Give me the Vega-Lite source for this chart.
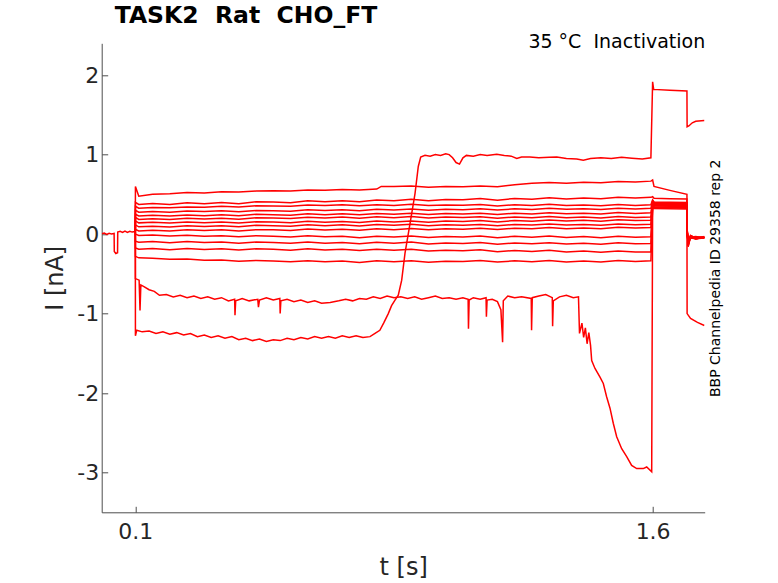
{
  "$schema": "https://vega.github.io/schema/vega-lite/v6.json",
  "autosize": {"type": "none"},
  "padding": {"left": 101.7, "top": 43.3, "right": 73.3, "bottom": 70.7},
  "width": 603,
  "height": 469,
  "background": "white",
  "config": {"view": {"stroke": null}, "font": "DejaVu Sans"},
  "title": {
    "text": "TASK2\u00a0 Rat\u00a0 CHO_FT",
    "anchor": "start",
    "frame": "group",
    "dx": 13,
    "dy": 30,
    "offset": 16,
    "baseline": "alphabetic",
    "font": "DejaVu Sans",
    "fontSize": 23.5,
    "fontWeight": "bold",
    "color": "#000000"
  },
  "datasets": {
    "traces": [
      {"s":"b","t":0.003,"i":0.005},{"s":"b","t":0.01,"i":0.012},{"s":"b","t":0.017,"i":-0.004},{"s":"b","t":0.024,"i":0.01},{"s":"b","t":0.031,"i":0.002},{"s":"b","t":0.0385,"i":0.008},{"s":"b","t":0.039,"i":-0.22},{"s":"b","t":0.0435,"i":-0.245},{"s":"b","t":0.0485,"i":-0.235},{"s":"b","t":0.049,"i":0.025},{"s":"b","t":0.056,"i":0.035},{"s":"b","t":0.063,"i":0.02},{"s":"b","t":0.07,"i":0.038},{"s":"b","t":0.077,"i":0.022},{"s":"b","t":0.084,"i":0.036},{"s":"b","t":0.091,"i":0.025},{"s":"b","t":0.0995,"i":0.032},

      {"s":"A","t":0.1,"i":0.03},{"s":"A","t":0.1003,"i":0.6},{"s":"A","t":0.11,"i":0.477},{"s":"A","t":0.15,"i":0.5},{"s":"A","t":0.2,"i":0.508},{"s":"A","t":0.25,"i":0.522},{"s":"A","t":0.3,"i":0.518},{"s":"A","t":0.35,"i":0.532},{"s":"A","t":0.4,"i":0.528},{"s":"A","t":0.45,"i":0.541},{"s":"A","t":0.5,"i":0.546},{"s":"A","t":0.55,"i":0.541},{"s":"A","t":0.6,"i":0.556},{"s":"A","t":0.65,"i":0.552},{"s":"A","t":0.7,"i":0.562},{"s":"A","t":0.75,"i":0.556},{"s":"A","t":0.8,"i":0.566},{"s":"A","t":0.813,"i":0.6},{"s":"A","t":0.85,"i":0.598},{"s":"A","t":0.9,"i":0.604},{"s":"A","t":0.95,"i":0.59},{"s":"A","t":1.0,"i":0.598},{"s":"A","t":1.05,"i":0.594},{"s":"A","t":1.1,"i":0.606},{"s":"A","t":1.15,"i":0.596},{"s":"A","t":1.2,"i":0.622},{"s":"A","t":1.25,"i":0.64},{"s":"A","t":1.3,"i":0.648},{"s":"A","t":1.35,"i":0.638},{"s":"A","t":1.4,"i":0.652},{"s":"A","t":1.45,"i":0.646},{"s":"A","t":1.5,"i":0.66},{"s":"A","t":1.55,"i":0.654},{"s":"A","t":1.595,"i":0.666},{"s":"A","t":1.6,"i":0.68},{"s":"A","t":1.604,"i":0.6},{"s":"A","t":1.65,"i":0.55},{"s":"A","t":1.6995,"i":0.5},{"s":"A","t":1.7,"i":0.06},{"s":"A","t":1.703,"i":-0.1},{"s":"A","t":1.71,"i":-0.03},{"s":"A","t":1.725,"i":-0.05},{"s":"A","t":1.75,"i":-0.04},

      {"s":"T2","t":0.1,"i":0.03},{"s":"T2","t":0.1003,"i":0.4},{"s":"T2","t":0.11,"i":0.373},{"s":"T2","t":0.15,"i":0.386},{"s":"T2","t":0.2,"i":0.372},{"s":"T2","t":0.25,"i":0.395},{"s":"T2","t":0.3,"i":0.383},{"s":"T2","t":0.35,"i":0.397},{"s":"T2","t":0.4,"i":0.382},{"s":"T2","t":0.45,"i":0.406},{"s":"T2","t":0.5,"i":0.404},{"s":"T2","t":0.55,"i":0.395},{"s":"T2","t":0.6,"i":0.42},{"s":"T2","t":0.65,"i":0.407},{"s":"T2","t":0.7,"i":0.42},{"s":"T2","t":0.75,"i":0.407},{"s":"T2","t":0.8,"i":0.43},{"s":"T2","t":0.85,"i":0.42},{"s":"T2","t":0.9,"i":0.438},{"s":"T2","t":0.95,"i":0.419},{"s":"T2","t":1.0,"i":0.436},{"s":"T2","t":1.05,"i":0.432},{"s":"T2","t":1.1,"i":0.446},{"s":"T2","t":1.15,"i":0.427},{"s":"T2","t":1.2,"i":0.448},{"s":"T2","t":1.25,"i":0.439},{"s":"T2","t":1.3,"i":0.457},{"s":"T2","t":1.35,"i":0.442},{"s":"T2","t":1.4,"i":0.454},{"s":"T2","t":1.45,"i":0.444},{"s":"T2","t":1.5,"i":0.464},{"s":"T2","t":1.55,"i":0.455},{"s":"T2","t":1.595,"i":0.462},{"s":"T2","t":1.6,"i":0.47},{"s":"T2","t":1.604,"i":0.45},{"s":"T2","t":1.65,"i":0.445},{"s":"T2","t":1.6995,"i":0.44},{"s":"T2","t":1.7,"i":0.08},{"s":"T2","t":1.703,"i":-0.14},{"s":"T2","t":1.71,"i":-0.02},{"s":"T2","t":1.725,"i":-0.06},{"s":"T2","t":1.75,"i":-0.04},

      {"s":"T3","t":0.1,"i":0.03},{"s":"T3","t":0.1003,"i":0.35},{"s":"T3","t":0.11,"i":0.326},{"s":"T3","t":0.15,"i":0.335},{"s":"T3","t":0.2,"i":0.33},{"s":"T3","t":0.25,"i":0.342},{"s":"T3","t":0.3,"i":0.339},{"s":"T3","t":0.35,"i":0.35},{"s":"T3","t":0.4,"i":0.342},{"s":"T3","t":0.45,"i":0.356},{"s":"T3","t":0.5,"i":0.352},{"s":"T3","t":0.55,"i":0.349},{"s":"T3","t":0.6,"i":0.366},{"s":"T3","t":0.65,"i":0.358},{"s":"T3","t":0.7,"i":0.368},{"s":"T3","t":0.75,"i":0.356},{"s":"T3","t":0.8,"i":0.37},{"s":"T3","t":0.85,"i":0.361},{"s":"T3","t":0.9,"i":0.374},{"s":"T3","t":0.95,"i":0.358},{"s":"T3","t":1.0,"i":0.367},{"s":"T3","t":1.05,"i":0.362},{"s":"T3","t":1.1,"i":0.373},{"s":"T3","t":1.15,"i":0.354},{"s":"T3","t":1.2,"i":0.37},{"s":"T3","t":1.25,"i":0.36},{"s":"T3","t":1.3,"i":0.375},{"s":"T3","t":1.35,"i":0.358},{"s":"T3","t":1.4,"i":0.366},{"s":"T3","t":1.45,"i":0.356},{"s":"T3","t":1.5,"i":0.371},{"s":"T3","t":1.55,"i":0.36},{"s":"T3","t":1.595,"i":0.368},{"s":"T3","t":1.6,"i":0.43},{"s":"T3","t":1.604,"i":0.405},{"s":"T3","t":1.65,"i":0.4},{"s":"T3","t":1.6995,"i":0.398},{"s":"T3","t":1.7,"i":0.05},{"s":"T3","t":1.703,"i":-0.12},{"s":"T3","t":1.71,"i":-0.04},{"s":"T3","t":1.725,"i":-0.05},{"s":"T3","t":1.75,"i":-0.05},

      {"s":"T4","t":0.1,"i":0.03},{"s":"T4","t":0.1003,"i":0.3},{"s":"T4","t":0.11,"i":0.276},{"s":"T4","t":0.15,"i":0.284},{"s":"T4","t":0.2,"i":0.274},{"s":"T4","t":0.25,"i":0.29},{"s":"T4","t":0.3,"i":0.283},{"s":"T4","t":0.35,"i":0.292},{"s":"T4","t":0.4,"i":0.28},{"s":"T4","t":0.45,"i":0.297},{"s":"T4","t":0.5,"i":0.294},{"s":"T4","t":0.55,"i":0.288},{"s":"T4","t":0.6,"i":0.305},{"s":"T4","t":0.65,"i":0.296},{"s":"T4","t":0.7,"i":0.306},{"s":"T4","t":0.75,"i":0.294},{"s":"T4","t":0.8,"i":0.311},{"s":"T4","t":0.85,"i":0.302},{"s":"T4","t":0.9,"i":0.316},{"s":"T4","t":0.95,"i":0.3},{"s":"T4","t":1.0,"i":0.312},{"s":"T4","t":1.05,"i":0.307},{"s":"T4","t":1.1,"i":0.318},{"s":"T4","t":1.15,"i":0.302},{"s":"T4","t":1.2,"i":0.318},{"s":"T4","t":1.25,"i":0.31},{"s":"T4","t":1.3,"i":0.325},{"s":"T4","t":1.35,"i":0.311},{"s":"T4","t":1.4,"i":0.32},{"s":"T4","t":1.45,"i":0.309},{"s":"T4","t":1.5,"i":0.326},{"s":"T4","t":1.55,"i":0.316},{"s":"T4","t":1.595,"i":0.324},{"s":"T4","t":1.6,"i":0.42},{"s":"T4","t":1.604,"i":0.398},{"s":"T4","t":1.65,"i":0.395},{"s":"T4","t":1.6995,"i":0.39},{"s":"T4","t":1.7,"i":0.03},{"s":"T4","t":1.703,"i":-0.16},{"s":"T4","t":1.71,"i":-0.03},{"s":"T4","t":1.725,"i":-0.04},{"s":"T4","t":1.75,"i":-0.04},

      {"s":"T5","t":0.1,"i":0.03},{"s":"T5","t":0.1003,"i":0.25},{"s":"T5","t":0.11,"i":0.229},{"s":"T5","t":0.15,"i":0.238},{"s":"T5","t":0.2,"i":0.226},{"s":"T5","t":0.25,"i":0.241},{"s":"T5","t":0.3,"i":0.232},{"s":"T5","t":0.35,"i":0.243},{"s":"T5","t":0.4,"i":0.23},{"s":"T5","t":0.45,"i":0.248},{"s":"T5","t":0.5,"i":0.244},{"s":"T5","t":0.55,"i":0.238},{"s":"T5","t":0.6,"i":0.255},{"s":"T5","t":0.65,"i":0.244},{"s":"T5","t":0.7,"i":0.256},{"s":"T5","t":0.75,"i":0.242},{"s":"T5","t":0.8,"i":0.26},{"s":"T5","t":0.85,"i":0.25},{"s":"T5","t":0.9,"i":0.263},{"s":"T5","t":0.95,"i":0.246},{"s":"T5","t":1.0,"i":0.258},{"s":"T5","t":1.05,"i":0.252},{"s":"T5","t":1.1,"i":0.263},{"s":"T5","t":1.15,"i":0.246},{"s":"T5","t":1.2,"i":0.262},{"s":"T5","t":1.25,"i":0.254},{"s":"T5","t":1.3,"i":0.268},{"s":"T5","t":1.35,"i":0.255},{"s":"T5","t":1.4,"i":0.263},{"s":"T5","t":1.45,"i":0.252},{"s":"T5","t":1.5,"i":0.27},{"s":"T5","t":1.55,"i":0.26},{"s":"T5","t":1.595,"i":0.267},{"s":"T5","t":1.6,"i":0.41},{"s":"T5","t":1.604,"i":0.392},{"s":"T5","t":1.65,"i":0.388},{"s":"T5","t":1.6995,"i":0.385},{"s":"T5","t":1.7,"i":0.07},{"s":"T5","t":1.703,"i":-0.11},{"s":"T5","t":1.71,"i":-0.05},{"s":"T5","t":1.725,"i":-0.06},{"s":"T5","t":1.75,"i":-0.05},

      {"s":"T6","t":0.1,"i":0.03},{"s":"T6","t":0.1003,"i":0.21},{"s":"T6","t":0.11,"i":0.184},{"s":"T6","t":0.15,"i":0.193},{"s":"T6","t":0.2,"i":0.183},{"s":"T6","t":0.25,"i":0.199},{"s":"T6","t":0.3,"i":0.191},{"s":"T6","t":0.35,"i":0.2},{"s":"T6","t":0.4,"i":0.188},{"s":"T6","t":0.45,"i":0.205},{"s":"T6","t":0.5,"i":0.202},{"s":"T6","t":0.55,"i":0.195},{"s":"T6","t":0.6,"i":0.213},{"s":"T6","t":0.65,"i":0.203},{"s":"T6","t":0.7,"i":0.214},{"s":"T6","t":0.75,"i":0.2},{"s":"T6","t":0.8,"i":0.217},{"s":"T6","t":0.85,"i":0.207},{"s":"T6","t":0.9,"i":0.22},{"s":"T6","t":0.95,"i":0.203},{"s":"T6","t":1.0,"i":0.214},{"s":"T6","t":1.05,"i":0.208},{"s":"T6","t":1.1,"i":0.219},{"s":"T6","t":1.15,"i":0.2},{"s":"T6","t":1.2,"i":0.216},{"s":"T6","t":1.25,"i":0.207},{"s":"T6","t":1.3,"i":0.222},{"s":"T6","t":1.35,"i":0.206},{"s":"T6","t":1.4,"i":0.215},{"s":"T6","t":1.45,"i":0.203},{"s":"T6","t":1.5,"i":0.221},{"s":"T6","t":1.55,"i":0.21},{"s":"T6","t":1.595,"i":0.216},{"s":"T6","t":1.6,"i":0.4},{"s":"T6","t":1.604,"i":0.385},{"s":"T6","t":1.65,"i":0.382},{"s":"T6","t":1.6995,"i":0.38},{"s":"T6","t":1.7,"i":0.02},{"s":"T6","t":1.703,"i":-0.13},{"s":"T6","t":1.71,"i":-0.02},{"s":"T6","t":1.725,"i":-0.05},{"s":"T6","t":1.75,"i":-0.04},

      {"s":"T7","t":0.1,"i":0.03},{"s":"T7","t":0.1003,"i":0.165},{"s":"T7","t":0.11,"i":0.141},{"s":"T7","t":0.15,"i":0.15},{"s":"T7","t":0.2,"i":0.139},{"s":"T7","t":0.25,"i":0.153},{"s":"T7","t":0.3,"i":0.143},{"s":"T7","t":0.35,"i":0.151},{"s":"T7","t":0.4,"i":0.139},{"s":"T7","t":0.45,"i":0.155},{"s":"T7","t":0.5,"i":0.152},{"s":"T7","t":0.55,"i":0.144},{"s":"T7","t":0.6,"i":0.161},{"s":"T7","t":0.65,"i":0.149},{"s":"T7","t":0.7,"i":0.159},{"s":"T7","t":0.75,"i":0.146},{"s":"T7","t":0.8,"i":0.163},{"s":"T7","t":0.85,"i":0.153},{"s":"T7","t":0.9,"i":0.166},{"s":"T7","t":0.95,"i":0.15},{"s":"T7","t":1.0,"i":0.163},{"s":"T7","t":1.05,"i":0.158},{"s":"T7","t":1.1,"i":0.17},{"s":"T7","t":1.15,"i":0.153},{"s":"T7","t":1.2,"i":0.17},{"s":"T7","t":1.25,"i":0.162},{"s":"T7","t":1.3,"i":0.178},{"s":"T7","t":1.35,"i":0.165},{"s":"T7","t":1.4,"i":0.173},{"s":"T7","t":1.45,"i":0.162},{"s":"T7","t":1.5,"i":0.18},{"s":"T7","t":1.55,"i":0.17},{"s":"T7","t":1.595,"i":0.175},{"s":"T7","t":1.6,"i":0.395},{"s":"T7","t":1.604,"i":0.378},{"s":"T7","t":1.65,"i":0.375},{"s":"T7","t":1.6995,"i":0.372},{"s":"T7","t":1.7,"i":0.04},{"s":"T7","t":1.703,"i":-0.09},{"s":"T7","t":1.71,"i":-0.04},{"s":"T7","t":1.725,"i":-0.03},{"s":"T7","t":1.75,"i":-0.05},

      {"s":"T8","t":0.1,"i":0.03},{"s":"T8","t":0.1003,"i":0.115},{"s":"T8","t":0.11,"i":0.091},{"s":"T8","t":0.15,"i":0.1},{"s":"T8","t":0.2,"i":0.089},{"s":"T8","t":0.25,"i":0.105},{"s":"T8","t":0.3,"i":0.096},{"s":"T8","t":0.35,"i":0.105},{"s":"T8","t":0.4,"i":0.093},{"s":"T8","t":0.45,"i":0.11},{"s":"T8","t":0.5,"i":0.106},{"s":"T8","t":0.55,"i":0.098},{"s":"T8","t":0.6,"i":0.116},{"s":"T8","t":0.65,"i":0.105},{"s":"T8","t":0.7,"i":0.117},{"s":"T8","t":0.75,"i":0.103},{"s":"T8","t":0.8,"i":0.12},{"s":"T8","t":0.85,"i":0.11},{"s":"T8","t":0.9,"i":0.123},{"s":"T8","t":0.95,"i":0.106},{"s":"T8","t":1.0,"i":0.118},{"s":"T8","t":1.05,"i":0.112},{"s":"T8","t":1.1,"i":0.122},{"s":"T8","t":1.15,"i":0.104},{"s":"T8","t":1.2,"i":0.121},{"s":"T8","t":1.25,"i":0.113},{"s":"T8","t":1.3,"i":0.128},{"s":"T8","t":1.35,"i":0.113},{"s":"T8","t":1.4,"i":0.121},{"s":"T8","t":1.45,"i":0.11},{"s":"T8","t":1.5,"i":0.127},{"s":"T8","t":1.55,"i":0.117},{"s":"T8","t":1.595,"i":0.124},{"s":"T8","t":1.6,"i":0.39},{"s":"T8","t":1.604,"i":0.372},{"s":"T8","t":1.65,"i":0.368},{"s":"T8","t":1.6995,"i":0.366},{"s":"T8","t":1.7,"i":0.06},{"s":"T8","t":1.703,"i":-0.15},{"s":"T8","t":1.71,"i":-0.03},{"s":"T8","t":1.725,"i":-0.06},{"s":"T8","t":1.75,"i":-0.03},

      {"s":"T9","t":0.1,"i":0.03},{"s":"T9","t":0.1003,"i":0.06},{"s":"T9","t":0.11,"i":0.04},{"s":"T9","t":0.15,"i":0.049},{"s":"T9","t":0.2,"i":0.038},{"s":"T9","t":0.25,"i":0.053},{"s":"T9","t":0.3,"i":0.044},{"s":"T9","t":0.35,"i":0.053},{"s":"T9","t":0.4,"i":0.04},{"s":"T9","t":0.45,"i":0.056},{"s":"T9","t":0.5,"i":0.053},{"s":"T9","t":0.55,"i":0.045},{"s":"T9","t":0.6,"i":0.063},{"s":"T9","t":0.65,"i":0.051},{"s":"T9","t":0.7,"i":0.062},{"s":"T9","t":0.75,"i":0.049},{"s":"T9","t":0.8,"i":0.066},{"s":"T9","t":0.85,"i":0.056},{"s":"T9","t":0.9,"i":0.07},{"s":"T9","t":0.95,"i":0.054},{"s":"T9","t":1.0,"i":0.067},{"s":"T9","t":1.05,"i":0.062},{"s":"T9","t":1.1,"i":0.073},{"s":"T9","t":1.15,"i":0.057},{"s":"T9","t":1.2,"i":0.074},{"s":"T9","t":1.25,"i":0.066},{"s":"T9","t":1.3,"i":0.082},{"s":"T9","t":1.35,"i":0.068},{"s":"T9","t":1.4,"i":0.077},{"s":"T9","t":1.45,"i":0.066},{"s":"T9","t":1.5,"i":0.085},{"s":"T9","t":1.55,"i":0.075},{"s":"T9","t":1.595,"i":0.083},{"s":"T9","t":1.6,"i":0.38},{"s":"T9","t":1.604,"i":0.364},{"s":"T9","t":1.65,"i":0.36},{"s":"T9","t":1.6995,"i":0.357},{"s":"T9","t":1.7,"i":0.01},{"s":"T9","t":1.703,"i":-0.1},{"s":"T9","t":1.71,"i":-0.05},{"s":"T9","t":1.725,"i":-0.04},{"s":"T9","t":1.75,"i":-0.04},

      {"s":"T10","t":0.1,"i":0.03},{"s":"T10","t":0.1003,"i":0.0},{"s":"T10","t":0.11,"i":-0.018},{"s":"T10","t":0.15,"i":-0.012},{"s":"T10","t":0.2,"i":-0.025},{"s":"T10","t":0.25,"i":-0.014},{"s":"T10","t":0.3,"i":-0.026},{"s":"T10","t":0.35,"i":-0.02},{"s":"T10","t":0.4,"i":-0.034},{"s":"T10","t":0.45,"i":-0.02},{"s":"T10","t":0.5,"i":-0.026},{"s":"T10","t":0.55,"i":-0.036},{"s":"T10","t":0.6,"i":-0.022},{"s":"T10","t":0.65,"i":-0.035},{"s":"T10","t":0.7,"i":-0.028},{"s":"T10","t":0.75,"i":-0.045},{"s":"T10","t":0.8,"i":-0.026},{"s":"T10","t":0.85,"i":-0.036},{"s":"T10","t":0.9,"i":-0.023},{"s":"T10","t":0.95,"i":-0.044},{"s":"T10","t":1.0,"i":-0.03},{"s":"T10","t":1.05,"i":-0.037},{"s":"T10","t":1.1,"i":-0.024},{"s":"T10","t":1.15,"i":-0.046},{"s":"T10","t":1.2,"i":-0.028},{"s":"T10","t":1.25,"i":-0.04},{"s":"T10","t":1.3,"i":-0.024},{"s":"T10","t":1.35,"i":-0.042},{"s":"T10","t":1.4,"i":-0.032},{"s":"T10","t":1.45,"i":-0.045},{"s":"T10","t":1.5,"i":-0.027},{"s":"T10","t":1.55,"i":-0.039},{"s":"T10","t":1.595,"i":-0.035},{"s":"T10","t":1.6,"i":0.37},{"s":"T10","t":1.604,"i":0.355},{"s":"T10","t":1.65,"i":0.35},{"s":"T10","t":1.6995,"i":0.346},{"s":"T10","t":1.7,"i":0.05},{"s":"T10","t":1.703,"i":-0.12},{"s":"T10","t":1.71,"i":-0.02},{"s":"T10","t":1.725,"i":-0.05},{"s":"T10","t":1.75,"i":-0.05},

      {"s":"T11","t":0.1,"i":0.03},{"s":"T11","t":0.1003,"i":-0.09},{"s":"T11","t":0.11,"i":-0.102},{"s":"T11","t":0.15,"i":-0.093},{"s":"T11","t":0.2,"i":-0.108},{"s":"T11","t":0.25,"i":-0.094},{"s":"T11","t":0.3,"i":-0.106},{"s":"T11","t":0.35,"i":-0.099},{"s":"T11","t":0.4,"i":-0.114},{"s":"T11","t":0.45,"i":-0.1},{"s":"T11","t":0.5,"i":-0.106},{"s":"T11","t":0.55,"i":-0.116},{"s":"T11","t":0.6,"i":-0.101},{"s":"T11","t":0.65,"i":-0.115},{"s":"T11","t":0.7,"i":-0.107},{"s":"T11","t":0.75,"i":-0.122},{"s":"T11","t":0.8,"i":-0.104},{"s":"T11","t":0.85,"i":-0.114},{"s":"T11","t":0.9,"i":-0.101},{"s":"T11","t":0.95,"i":-0.124},{"s":"T11","t":1.0,"i":-0.112},{"s":"T11","t":1.05,"i":-0.118},{"s":"T11","t":1.1,"i":-0.106},{"s":"T11","t":1.15,"i":-0.128},{"s":"T11","t":1.2,"i":-0.111},{"s":"T11","t":1.25,"i":-0.123},{"s":"T11","t":1.3,"i":-0.108},{"s":"T11","t":1.35,"i":-0.125},{"s":"T11","t":1.4,"i":-0.115},{"s":"T11","t":1.45,"i":-0.128},{"s":"T11","t":1.5,"i":-0.11},{"s":"T11","t":1.55,"i":-0.122},{"s":"T11","t":1.595,"i":-0.118},{"s":"T11","t":1.6,"i":0.36},{"s":"T11","t":1.604,"i":0.345},{"s":"T11","t":1.65,"i":0.34},{"s":"T11","t":1.6995,"i":0.336},{"s":"T11","t":1.7,"i":0.03},{"s":"T11","t":1.703,"i":-0.08},{"s":"T11","t":1.71,"i":-0.04},{"s":"T11","t":1.725,"i":-0.06},{"s":"T11","t":1.75,"i":-0.04},

      {"s":"T12","t":0.1,"i":0.03},{"s":"T12","t":0.1003,"i":-0.175},{"s":"T12","t":0.11,"i":-0.19},{"s":"T12","t":0.15,"i":-0.182},{"s":"T12","t":0.2,"i":-0.197},{"s":"T12","t":0.25,"i":-0.182},{"s":"T12","t":0.3,"i":-0.194},{"s":"T12","t":0.35,"i":-0.186},{"s":"T12","t":0.4,"i":-0.201},{"s":"T12","t":0.45,"i":-0.185},{"s":"T12","t":0.5,"i":-0.191},{"s":"T12","t":0.55,"i":-0.203},{"s":"T12","t":0.6,"i":-0.185},{"s":"T12","t":0.65,"i":-0.199},{"s":"T12","t":0.7,"i":-0.19},{"s":"T12","t":0.75,"i":-0.208},{"s":"T12","t":0.8,"i":-0.192},{"s":"T12","t":0.85,"i":-0.204},{"s":"T12","t":0.9,"i":-0.192},{"s":"T12","t":0.95,"i":-0.214},{"s":"T12","t":1.0,"i":-0.202},{"s":"T12","t":1.05,"i":-0.209},{"s":"T12","t":1.1,"i":-0.198},{"s":"T12","t":1.15,"i":-0.222},{"s":"T12","t":1.2,"i":-0.206},{"s":"T12","t":1.25,"i":-0.218},{"s":"T12","t":1.3,"i":-0.204},{"s":"T12","t":1.35,"i":-0.224},{"s":"T12","t":1.4,"i":-0.213},{"s":"T12","t":1.45,"i":-0.228},{"s":"T12","t":1.5,"i":-0.212},{"s":"T12","t":1.55,"i":-0.226},{"s":"T12","t":1.595,"i":-0.225},{"s":"T12","t":1.6,"i":0.35},{"s":"T12","t":1.604,"i":0.335},{"s":"T12","t":1.65,"i":0.33},{"s":"T12","t":1.6995,"i":0.326},{"s":"T12","t":1.7,"i":0.02},{"s":"T12","t":1.703,"i":-0.11},{"s":"T12","t":1.71,"i":-0.03},{"s":"T12","t":1.725,"i":-0.04},{"s":"T12","t":1.75,"i":-0.05},

      {"s":"T13","t":0.1,"i":0.03},{"s":"T13","t":0.1003,"i":-0.28},{"s":"T13","t":0.11,"i":-0.299},{"s":"T13","t":0.15,"i":-0.305},{"s":"T13","t":0.2,"i":-0.318},{"s":"T13","t":0.25,"i":-0.313},{"s":"T13","t":0.3,"i":-0.33},{"s":"T13","t":0.35,"i":-0.326},{"s":"T13","t":0.4,"i":-0.342},{"s":"T13","t":0.45,"i":-0.331},{"s":"T13","t":0.5,"i":-0.338},{"s":"T13","t":0.55,"i":-0.349},{"s":"T13","t":0.6,"i":-0.334},{"s":"T13","t":0.65,"i":-0.348},{"s":"T13","t":0.7,"i":-0.34},{"s":"T13","t":0.75,"i":-0.356},{"s":"T13","t":0.8,"i":-0.337},{"s":"T13","t":0.85,"i":-0.347},{"s":"T13","t":0.9,"i":-0.334},{"s":"T13","t":0.95,"i":-0.353},{"s":"T13","t":1.0,"i":-0.341},{"s":"T13","t":1.05,"i":-0.345},{"s":"T13","t":1.1,"i":-0.332},{"s":"T13","t":1.15,"i":-0.352},{"s":"T13","t":1.2,"i":-0.336},{"s":"T13","t":1.25,"i":-0.347},{"s":"T13","t":1.3,"i":-0.331},{"s":"T13","t":1.35,"i":-0.35},{"s":"T13","t":1.4,"i":-0.339},{"s":"T13","t":1.45,"i":-0.351},{"s":"T13","t":1.5,"i":-0.333},{"s":"T13","t":1.55,"i":-0.345},{"s":"T13","t":1.595,"i":-0.337},{"s":"T13","t":1.6,"i":0.34},{"s":"T13","t":1.604,"i":0.322},{"s":"T13","t":1.65,"i":0.318},{"s":"T13","t":1.6995,"i":0.314},{"s":"T13","t":1.7,"i":0.04},{"s":"T13","t":1.703,"i":-0.09},{"s":"T13","t":1.71,"i":-0.05},{"s":"T13","t":1.725,"i":-0.05},{"s":"T13","t":1.75,"i":-0.04},

      {"s":"B","t":0.1,"i":0.03},{"s":"B","t":0.1003,"i":-0.56},{"s":"B","t":0.111,"i":-0.58},{"s":"B","t":0.1136,"i":-0.96},{"s":"B","t":0.116,"i":-0.64},{"s":"B","t":0.125,"i":-0.66},{"s":"B","t":0.14,"i":-0.7},{"s":"B","t":0.155,"i":-0.72},{"s":"B","t":0.17,"i":-0.77},{"s":"B","t":0.19,"i":-0.76},{"s":"B","t":0.21,"i":-0.79},{"s":"B","t":0.23,"i":-0.77},{"s":"B","t":0.25,"i":-0.8},{"s":"B","t":0.27,"i":-0.78},{"s":"B","t":0.29,"i":-0.81},{"s":"B","t":0.31,"i":-0.79},{"s":"B","t":0.33,"i":-0.82},{"s":"B","t":0.35,"i":-0.8},{"s":"B","t":0.37,"i":-0.84},{"s":"B","t":0.388,"i":-0.82},{"s":"B","t":0.389,"i":-1.02},{"s":"B","t":0.391,"i":-0.84},{"s":"B","t":0.41,"i":-0.81},{"s":"B","t":0.43,"i":-0.84},{"s":"B","t":0.455,"i":-0.82},{"s":"B","t":0.457,"i":-0.92},{"s":"B","t":0.46,"i":-0.83},{"s":"B","t":0.48,"i":-0.8},{"s":"B","t":0.5,"i":-0.83},{"s":"B","t":0.519,"i":-0.81},{"s":"B","t":0.52,"i":-1.0},{"s":"B","t":0.522,"i":-0.84},{"s":"B","t":0.54,"i":-0.82},{"s":"B","t":0.56,"i":-0.85},{"s":"B","t":0.58,"i":-0.83},{"s":"B","t":0.6,"i":-0.86},{"s":"B","t":0.62,"i":-0.84},{"s":"B","t":0.64,"i":-0.87},{"s":"B","t":0.665,"i":-0.86},{"s":"B","t":0.69,"i":-0.84},{"s":"B","t":0.71,"i":-0.82},{"s":"B","t":0.73,"i":-0.84},{"s":"B","t":0.75,"i":-0.81},{"s":"B","t":0.77,"i":-0.82},{"s":"B","t":0.79,"i":-0.79},{"s":"B","t":0.81,"i":-0.81},{"s":"B","t":0.83,"i":-0.78},{"s":"B","t":0.85,"i":-0.8},{"s":"B","t":0.87,"i":-0.79},{"s":"B","t":0.89,"i":-0.81},{"s":"B","t":0.91,"i":-0.79},{"s":"B","t":0.93,"i":-0.82},{"s":"B","t":0.95,"i":-0.8},{"s":"B","t":0.97,"i":-0.78},{"s":"B","t":0.99,"i":-0.81},{"s":"B","t":1.01,"i":-0.8},{"s":"B","t":1.03,"i":-0.82},{"s":"B","t":1.05,"i":-0.8},{"s":"B","t":1.065,"i":-0.82},{"s":"B","t":1.066,"i":-1.19},{"s":"B","t":1.068,"i":-0.83},{"s":"B","t":1.08,"i":-0.8},{"s":"B","t":1.1,"i":-0.82},{"s":"B","t":1.117,"i":-0.8},{"s":"B","t":1.118,"i":-1.04},{"s":"B","t":1.12,"i":-0.83},{"s":"B","t":1.135,"i":-0.82},{"s":"B","t":1.15,"i":-0.85},{"s":"B","t":1.16,"i":-0.95},{"s":"B","t":1.165,"i":-1.36},{"s":"B","t":1.167,"i":-0.84},{"s":"B","t":1.18,"i":-0.78},{"s":"B","t":1.2,"i":-0.8},{"s":"B","t":1.22,"i":-0.79},{"s":"B","t":1.248,"i":-0.81},{"s":"B","t":1.249,"i":-1.21},{"s":"B","t":1.251,"i":-0.8},{"s":"B","t":1.27,"i":-0.78},{"s":"B","t":1.29,"i":-0.76},{"s":"B","t":1.309,"i":-0.8},{"s":"B","t":1.31,"i":-1.16},{"s":"B","t":1.312,"i":-0.84},{"s":"B","t":1.33,"i":-0.79},{"s":"B","t":1.35,"i":-0.77},{"s":"B","t":1.37,"i":-0.8},{"s":"B","t":1.385,"i":-0.79},{"s":"B","t":1.388,"i":-1.25},{"s":"B","t":1.395,"i":-1.12},{"s":"B","t":1.4,"i":-1.3},{"s":"B","t":1.405,"i":-1.18},{"s":"B","t":1.41,"i":-1.38},{"s":"B","t":1.415,"i":-1.24},{"s":"B","t":1.42,"i":-1.4},{"s":"B","t":1.4233,"i":-1.59},{"s":"B","t":1.4329,"i":-1.69},{"s":"B","t":1.4474,"i":-1.8},{"s":"B","t":1.457,"i":-1.88},{"s":"B","t":1.4668,"i":-2.05},{"s":"B","t":1.4764,"i":-2.19},{"s":"B","t":1.4859,"i":-2.38},{"s":"B","t":1.4958,"i":-2.55},{"s":"B","t":1.5103,"i":-2.7},{"s":"B","t":1.5248,"i":-2.8},{"s":"B","t":1.5392,"i":-2.91},{"s":"B","t":1.5538,"i":-2.95},{"s":"B","t":1.5729,"i":-2.95},{"s":"B","t":1.5828,"i":-2.93},{"s":"B","t":1.5973,"i":-2.99},{"s":"B","t":1.6,"i":0.36},{"s":"B","t":1.604,"i":0.34},{"s":"B","t":1.65,"i":0.335},{"s":"B","t":1.6995,"i":0.33},{"s":"B","t":1.7,"i":-1.0},{"s":"B","t":1.71,"i":-1.06},{"s":"B","t":1.73,"i":-1.11},{"s":"B","t":1.75,"i":-1.15},

      {"s":"C","t":0.1,"i":0.03},{"s":"C","t":0.1003,"i":-1.28},{"s":"C","t":0.104,"i":-1.21},{"s":"C","t":0.12,"i":-1.23},{"s":"C","t":0.14,"i":-1.22},{"s":"C","t":0.16,"i":-1.25},{"s":"C","t":0.18,"i":-1.23},{"s":"C","t":0.2,"i":-1.26},{"s":"C","t":0.22,"i":-1.24},{"s":"C","t":0.24,"i":-1.27},{"s":"C","t":0.26,"i":-1.25},{"s":"C","t":0.28,"i":-1.29},{"s":"C","t":0.3,"i":-1.27},{"s":"C","t":0.32,"i":-1.3},{"s":"C","t":0.34,"i":-1.28},{"s":"C","t":0.36,"i":-1.31},{"s":"C","t":0.38,"i":-1.29},{"s":"C","t":0.4,"i":-1.33},{"s":"C","t":0.42,"i":-1.31},{"s":"C","t":0.44,"i":-1.34},{"s":"C","t":0.46,"i":-1.32},{"s":"C","t":0.48,"i":-1.35},{"s":"C","t":0.5,"i":-1.33},{"s":"C","t":0.52,"i":-1.34},{"s":"C","t":0.54,"i":-1.31},{"s":"C","t":0.56,"i":-1.33},{"s":"C","t":0.58,"i":-1.3},{"s":"C","t":0.6,"i":-1.32},{"s":"C","t":0.62,"i":-1.29},{"s":"C","t":0.64,"i":-1.31},{"s":"C","t":0.66,"i":-1.29},{"s":"C","t":0.68,"i":-1.31},{"s":"C","t":0.7,"i":-1.28},{"s":"C","t":0.72,"i":-1.3},{"s":"C","t":0.74,"i":-1.28},{"s":"C","t":0.76,"i":-1.3},{"s":"C","t":0.7805,"i":-1.29},{"s":"C","t":0.795,"i":-1.25},{"s":"C","t":0.809,"i":-1.21},{"s":"C","t":0.82,"i":-1.12},{"s":"C","t":0.8335,"i":-1.0},{"s":"C","t":0.843,"i":-0.9},{"s":"C","t":0.853,"i":-0.83},{"s":"C","t":0.8625,"i":-0.77},{"s":"C","t":0.8724,"i":-0.58},{"s":"C","t":0.882,"i":-0.24},{"s":"C","t":0.8965,"i":0.13},{"s":"C","t":0.911,"i":0.51},{"s":"C","t":0.9205,"i":0.85},{"s":"C","t":0.9275,"i":0.97},{"s":"C","t":0.94,"i":0.99},{"s":"C","t":0.955,"i":0.98},{"s":"C","t":0.97,"i":1.0},{"s":"C","t":0.985,"i":0.99},{"s":"C","t":1.0,"i":1.01},{"s":"C","t":1.01,"i":1.0},{"s":"C","t":1.02,"i":0.96},{"s":"C","t":1.03,"i":0.9},{"s":"C","t":1.04,"i":0.88},{"s":"C","t":1.05,"i":0.96},{"s":"C","t":1.06,"i":0.99},{"s":"C","t":1.08,"i":0.98},{"s":"C","t":1.1,"i":1.0},{"s":"C","t":1.12,"i":0.99},{"s":"C","t":1.148,"i":1.005},{"s":"C","t":1.17,"i":0.99},{"s":"C","t":1.19,"i":0.98},{"s":"C","t":1.206,"i":0.95},{"s":"C","t":1.22,"i":0.97},{"s":"C","t":1.244,"i":0.97},{"s":"C","t":1.27,"i":0.96},{"s":"C","t":1.3,"i":0.965},{"s":"C","t":1.322,"i":0.97},{"s":"C","t":1.35,"i":0.95},{"s":"C","t":1.38,"i":0.945},{"s":"C","t":1.399,"i":0.93},{"s":"C","t":1.42,"i":0.95},{"s":"C","t":1.45,"i":0.96},{"s":"C","t":1.48,"i":0.95},{"s":"C","t":1.51,"i":0.965},{"s":"C","t":1.54,"i":0.955},{"s":"C","t":1.57,"i":0.945},{"s":"C","t":1.595,"i":0.96},{"s":"C","t":1.6,"i":1.915},{"s":"C","t":1.603,"i":1.82},{"s":"C","t":1.65,"i":1.81},{"s":"C","t":1.6995,"i":1.8},{"s":"C","t":1.7,"i":1.35},{"s":"C","t":1.705,"i":1.36},{"s":"C","t":1.715,"i":1.4},{"s":"C","t":1.725,"i":1.42},{"s":"C","t":1.75,"i":1.43}
    ]
  },
  "layer": [
    {
      "data": {"name": "traces"},
      "mark": {"type": "line", "color": "#ff0000", "strokeWidth": 1.5, "clip": true},
      "encoding": {
        "x": {
          "field": "t",
          "type": "quantitative",
          "scale": {"domain": [0.0025, 1.751], "nice": false, "zero": false},
          "axis": {
            "orient": "bottom",
            "values": [0.1, 1.6],
            "labelExpr": "toString(datum.value)",
            "title": "t [s]",
            "grid": false,
            "tickSize": -6,
            "tickColor": "#4d4d4d",
            "domainColor": "#4d4d4d",
            "labelFontSize": 22,
            "labelColor": "#262626",
            "labelPadding": 15,
            "titleFontSize": 24,
            "titleFontWeight": "normal",
            "titleColor": "#262626",
            "titlePadding": 13
          }
        },
        "y": {
          "field": "i",
          "type": "quantitative",
          "scale": {"domain": [-3.5, 2.4], "nice": false, "zero": false},
          "axis": {
            "orient": "left",
            "values": [-3, -2, -1, 0, 1, 2],
            "labelExpr": "toString(datum.value)",
            "title": "I [nA]",
            "grid": false,
            "tickSize": -6,
            "tickColor": "#4d4d4d",
            "domainColor": "#4d4d4d",
            "labelFontSize": 22,
            "labelColor": "#262626",
            "labelPadding": 9,
            "titleFontSize": 24,
            "titleFontWeight": "normal",
            "titleColor": "#262626",
            "titlePadding": 9
          }
        },
        "detail": {"field": "s", "type": "nominal"}
      }
    },
    {
      "data": {"values": [{"t": 1, "i": 0}]},
      "mark": {"type": "point", "opacity": 0},
      "encoding": {
        "x": {
          "field": "t",
          "type": "quantitative",
          "axis": {
            "orient": "top",
            "domain": false,
            "ticks": false,
            "labels": false,
            "grid": false,
            "title": "35 °C\u00a0 Inactivation",
            "titleAnchor": "end",
            "titleBaseline": "alphabetic",
            "titlePadding": -4,
            "titleFontSize": 19,
            "titleFontWeight": "normal",
            "titleColor": "#000000"
          }
        },
        "y": {
          "field": "i",
          "type": "quantitative",
          "axis": {
            "orient": "right",
            "domain": false,
            "ticks": false,
            "labels": false,
            "grid": false,
            "title": "BBP Channelpedia ID 29358 rep 2",
            "titleAngle": 270,
            "titleBaseline": "top",
            "titlePadding": 4,
            "titleFontSize": 14,
            "titleFontWeight": "normal",
            "titleColor": "#000000"
          }
        }
      }
    }
  ],
  "resolve": {"axis": {"x": "independent", "y": "independent"}}
}
